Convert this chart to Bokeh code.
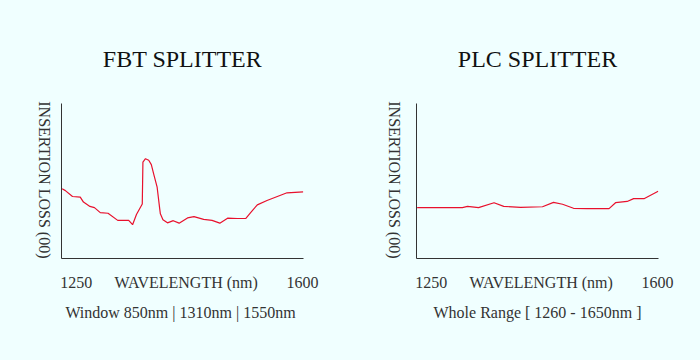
import math
from bokeh.plotting import figure
from bokeh.layouts import row
from bokeh.models import FixedTicker, AllLabels, Range1d
from bokeh.embed import file_html
from bokeh.resources import INLINE

# ---- data (wavelength nm, insertion loss in arbitrary units) ----
fbt_wl = [1228, 1233, 1244, 1256, 1261, 1271, 1278, 1287, 1299, 1314, 1331, 1337,
          1343, 1352, 1353, 1357, 1362, 1366, 1370, 1375, 1379, 1380, 1384, 1391,
          1400, 1409, 1422, 1432, 1447, 1460, 1472, 1484, 1499, 1512, 1520, 1530,
          1545, 1561, 1576, 1601]
fbt_il = [2.25, 2.19, 2.00, 1.98, 1.82, 1.68, 1.64, 1.48, 1.46, 1.23, 1.23, 1.09,
          1.42, 1.76, 3.11, 3.22, 3.17, 3.03, 2.70, 2.30, 1.60, 1.44, 1.25, 1.15,
          1.22, 1.14, 1.31, 1.35, 1.26, 1.23, 1.14, 1.30, 1.29, 1.29, 1.49, 1.73,
          1.87, 2.00, 2.12, 2.15]

plc_wl = [1228, 1298, 1306, 1323, 1347, 1362, 1388, 1422, 1439, 1453, 1470, 1491,
          1525, 1535, 1553, 1563, 1579, 1601]
plc_il = [1.64, 1.64, 1.68, 1.64, 1.80, 1.68, 1.65, 1.67, 1.81, 1.75, 1.62, 1.61,
          1.61, 1.80, 1.84, 1.93, 1.93, 2.17]

tick_values = [1250, 1420, 1600]
tick_labels = {1250: "1250", 1420: "WAVELENGTH (nm)", 1600: "1600"}
y_tick_values = [0]
y_tick_labels = {0: "INSERTION LOSS (00)"}
titles = ["FBT SPLITTER", "PLC SPLITTER"]
captions = ["Window  850nm | 1310nm | 1550nm", "Whole Range [ 1260 - 1650nm ]"]

BG = "#F0FFFF"
FONT = "Liberation Serif"
LINE = "#e8112d"


def make_panel(title, caption, wl, il, width, border_left, border_right, ylab_standoff):
    p = figure(width=width, height=352, output_backend="svg", toolbar_location=None,
               x_range=Range1d(1227, 1601.5), y_range=Range1d(0, 5),
               min_border_left=border_left, min_border_right=border_right,
               min_border_top=103, min_border_bottom=94)
    p.background_fill_color = BG
    p.border_fill_color = BG
    p.outline_line_color = None
    p.grid.visible = False

    p.title.text = title
    p.title.align = "center"
    p.title.vertical_align = "top"
    p.title.text_font = FONT
    p.title.text_font_size = "24px"
    p.title.text_font_style = "normal"
    p.title.text_color = "#111111"
    p.title.standoff = 59

    xa = p.xaxis[0]
    xa.ticker = FixedTicker(ticks=tick_values)
    xa.major_label_overrides = tick_labels
    xa.major_label_policy = AllLabels()
    xa.major_tick_line_color = None
    xa.minor_tick_line_color = None
    xa.major_tick_out = 0
    xa.major_label_standoff = 15
    xa.major_label_text_font = FONT
    xa.major_label_text_font_size = "16px"
    xa.major_label_text_color = "#333333"
    xa.axis_line_color = "#333333"
    xa.axis_line_width = 1
    xa.axis_label = caption
    xa.axis_label_standoff = 10
    xa.axis_label_text_font = FONT
    xa.axis_label_text_font_size = "16px"
    xa.axis_label_text_font_style = "normal"
    xa.axis_label_text_color = "#333333"

    ya = p.yaxis[0]
    ya.ticker = FixedTicker(ticks=y_tick_values)
    ya.major_label_overrides = y_tick_labels
    ya.major_label_policy = AllLabels()
    ya.major_label_orientation = -math.pi / 2
    ya.major_tick_line_color = None
    ya.minor_tick_line_color = None
    ya.major_tick_out = 0
    ya.major_label_standoff = ylab_standoff
    ya.major_label_text_font = FONT
    ya.major_label_text_font_size = "16px"
    ya.major_label_text_color = "#333333"
    ya.axis_line_color = "#333333"
    ya.axis_line_width = 1

    p.line(wl, il, line_color=LINE, line_width=1.2)
    return p


p1 = make_panel(titles[0], captions[0], fbt_wl, fbt_il, 350, 61, 47, 17)
p2 = make_panel(titles[1], captions[1], plc_wl, plc_il, 350, 66, 42, 22)
p = row(p1, p2)

html = file_html(p, INLINE).replace("<head>", "<head><style>body{background:#F0FFFF;}</style>", 1)
open("out.html", "w").write(html)
